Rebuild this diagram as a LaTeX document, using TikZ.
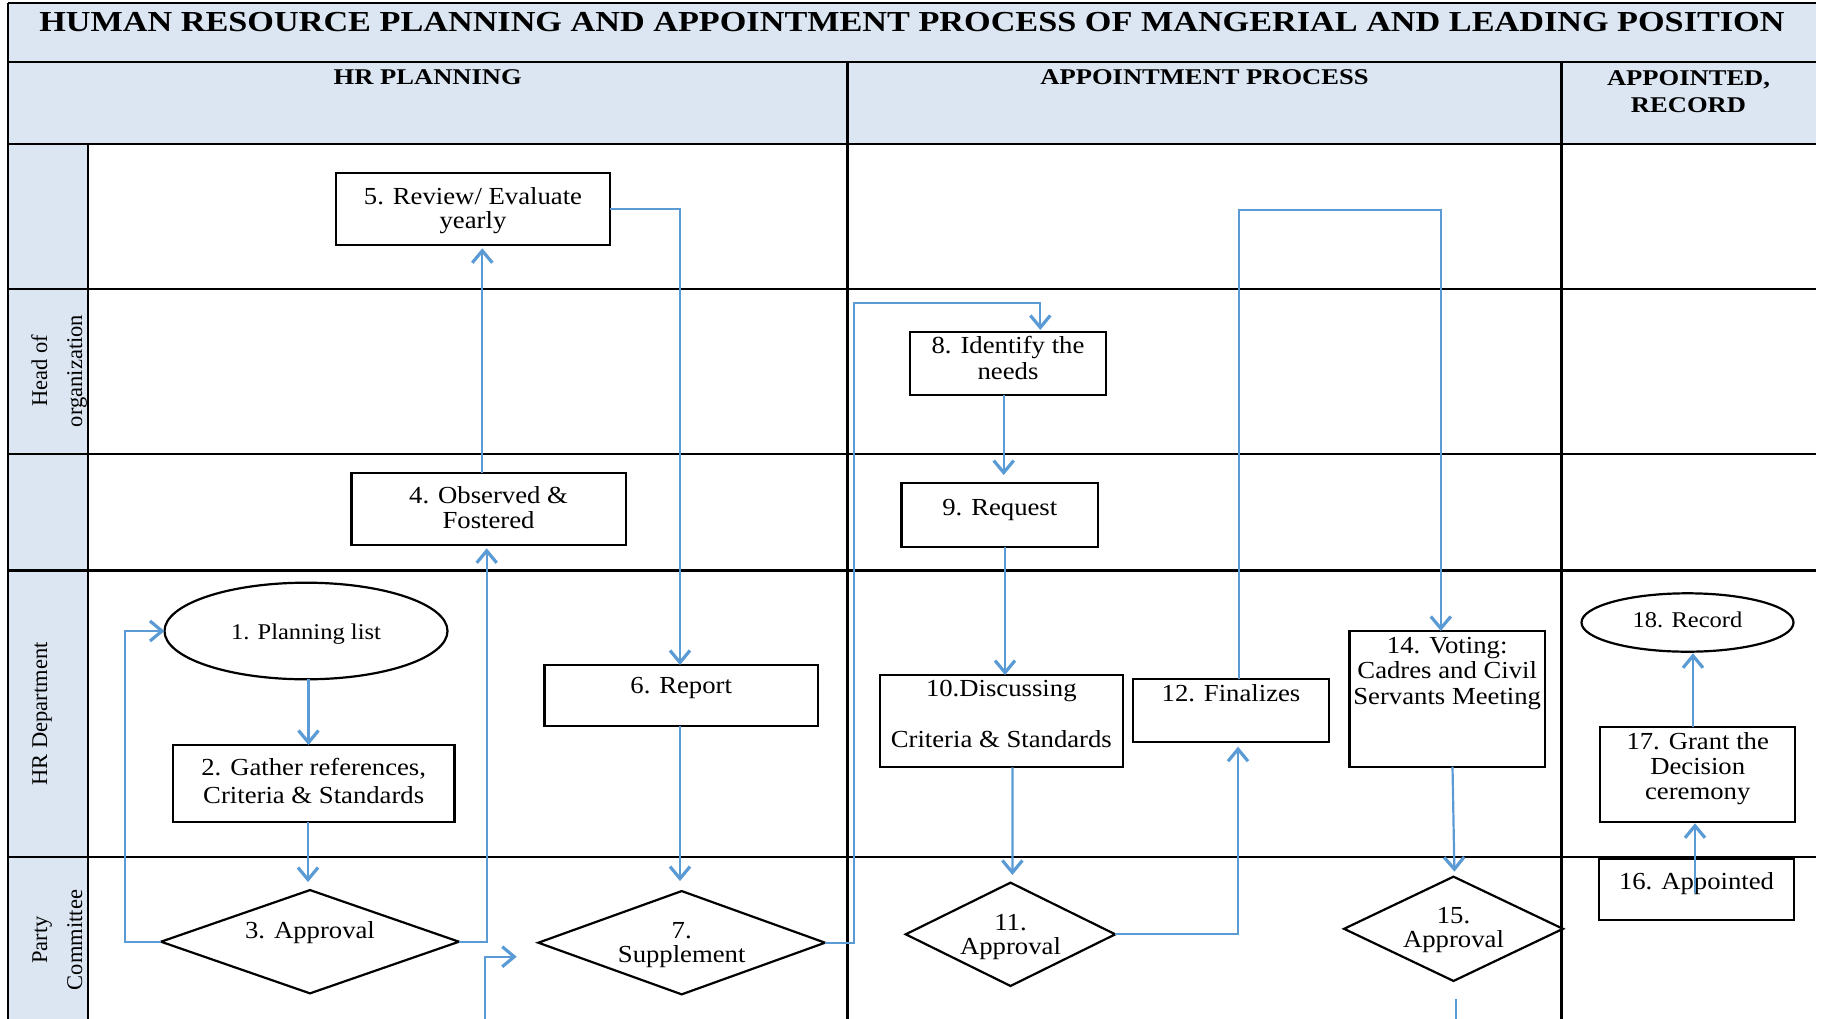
\documentclass[tikz,border=0pt]{standalone}
\usepackage{fontspec}
\setmainfont{Liberation Serif}
\newfontfamily\bodyfont{Liberation Serif}[FakeStretch=1.09]
\newfontfamily\headfont{Liberation Serif}[FakeStretch=1.18]
\usetikzlibrary{shapes.geometric,arrows.meta}
\definecolor{cblue}{HTML}{5B9BD5}
\definecolor{hdr}{HTML}{DCE6F2}
\newcommand{\bsz}[1]{\bodyfont\fontsize{24.5}{#1}\selectfont}
\begin{document}
\begin{tikzpicture}[x=1pt,y=-1pt,
  tbl/.style={line width=2.5pt, draw=black},
  shp/.style={draw=black, line width=2.2pt, inner sep=0pt, outer sep=0pt},
  boxn/.style={shp, rectangle},
  dian/.style={shp, diamond},
  elln/.style={shp, ellipse, font=\bodyfont\fontsize{22.5}{25}\selectfont},
  conn/.style={draw=cblue, line width=2.2pt, -{Straight Barb[length=12pt,width=20pt,line width=3.2pt]}},
  plainline/.style={draw=cblue, line width=2.2pt},
  txt/.style={inner sep=0pt, align=center, anchor=base},
  lane/.style={inner sep=0pt, align=center, anchor=base, rotate=90, font=\fontsize{22.5}{35}\selectfont},
  hd/.style={txt, font=\headfont\bfseries\fontsize{22.5}{27.5}\selectfont}
]
\useasboundingbox (0,0) rectangle (1822,1018);
\clip (0,0) rectangle (1822,1018);
% ---------- table ----------
\fill[hdr] (8,3) rectangle (1816,144);
\fill[hdr] (8,144) rectangle (88,1030);
\draw[tbl] (8,3) -- (1816,3);
\draw[tbl] (8,62) -- (1816,62);
\draw[tbl] (8,144) -- (1816,144);
\draw[tbl] (8,289) -- (1816,289);
\draw[tbl] (8,454) -- (1816,454);
\draw[tbl] (8,570.5) -- (1816,570.5);
\draw[tbl] (8,857) -- (1816,857);
\draw[tbl] (8,3) -- (8,1030);
\draw[tbl] (88,144) -- (88,1030);
\draw[tbl] (847.5,62) -- (847.5,1030);
\draw[tbl] (1561.5,62) -- (1561.5,1030);
% ---------- titles ----------
\node[txt, font=\headfont\bfseries\fontsize{29}{30}\selectfont] (title) at (912,31) {HUMAN RESOURCE PLANNING AND APPOINTMENT PROCESS OF MANGERIAL AND LEADING POSITION};
\node[hd] (hhr) at (427.75,84) {HR PLANNING};
\node[hd] (hap) at (1204.5,84) {APPOINTMENT PROCESS};
\node[hd] (hre) at (1688.5,112.5) {APPOINTED,\\RECORD};
% ---------- lane labels (base = last line) ----------
\node[lane] (lhead) at (82,371) {Head of\\organization};
\node[lane] (lhr) at (47,714) {HR Department};
\node[lane] (lpc) at (82,940) {Party\\Committee};
% ---------- shapes ----------
\node[elln, minimum width=283pt, minimum height=96.6pt, text height=21pt] (n1) at (306,631) {1. Planning list};
\node[boxn, minimum width=281.4pt, minimum height=77pt] (n2) at (313.7,783.5) {};
\node[dian, minimum width=298pt, minimum height=103.3pt] (n3) at (310,941.7) {};
\node[boxn, minimum width=274.3pt, minimum height=72.6pt] (n4) at (488.6,509) {};
\node[boxn, minimum width=274pt, minimum height=72.5pt] (n5) at (473,209) {};
\node[boxn, minimum width=273.6pt, minimum height=60.7pt] (n6) at (681.2,695.3) {};
\node[dian, minimum width=286.7pt, minimum height=103.3pt] (n7) at (681.7,942.7) {};
\node[boxn, minimum width=196pt, minimum height=63.3pt] (n8) at (1008,363.3) {};
\node[boxn, minimum width=196.5pt, minimum height=63.3pt] (n9) at (999.8,515) {};
\node[boxn, minimum width=243pt, minimum height=92.3pt] (n10) at (1001.3,721.2) {};
\node[dian, minimum width=209.5pt, minimum height=103.3pt] (n11) at (1010.5,934.3) {};
\node[boxn, minimum width=195.3pt, minimum height=63pt] (n12) at (1231,710.5) {};
\node[boxn, minimum width=195.3pt, minimum height=135.7pt] (n14) at (1447.2,698.8) {};
\node[dian, minimum width=218.9pt, minimum height=104.3pt] (n15) at (1453.5,928.8) {};
\node[boxn, minimum width=195pt, minimum height=61pt] (n16) at (1696.5,889.5) {};
\node[boxn, minimum width=195.3pt, minimum height=95pt] (n17) at (1697.7,774.2) {};
\node[elln, minimum width=212pt, minimum height=58.4pt, text depth=6.4pt] (n18) at (1687.5,622.5) {18. Record};
% ---------- texts (anchor base = last line) ----------
\node[txt, font=\bsz{28.5}] (t2) at ([yshift=-58.5pt]n2.north) {2. Gather references,\\Criteria \& Standards};
\node[txt, font=\bsz{24.5}] (t3) at ([yshift=3.2pt]n3.center) {3. Approval};
\node[txt, font=\bsz{24.5}] (t4) at ([yshift=-55.5pt]n4.north) {4. Observed \&\\Fostered};
\node[txt, font=\bsz{24.5}] (t5) at ([yshift=-56pt]n5.north) {5. Review/ Evaluate\\yearly};
\node[txt, font=\bsz{24.5}] (t6) at ([yshift=-29pt]n6.north) {6. Report};
\node[txt, font=\bsz{23.4}] (t7) at ([yshift=-19.5pt]n7.center) {7.\\Supplement};
\node[txt, font=\bsz{26}] (t8) at ([yshift=-48pt]n8.north) {8. Identify the\\needs};
\node[txt, font=\bsz{24.5}] (t9) at ([yshift=-31.7pt]n9.north) {9. Request};
\node[txt, font=\bsz{25.5}] (t10) at ([yshift=-72.5pt]n10.north) {10.Discussing\\[25.5pt]Criteria \& Standards};
\node[txt, font=\bsz{24}] (t11) at ([yshift=-20.2pt]n11.center) {11.\\Approval};
\node[txt, font=\bsz{24.5}] (t12) at ([yshift=-22pt]n12.north) {12. Finalizes};
\node[txt, font=\bsz{25.5}] (t14) at ([yshift=-73.5pt]n14.north) {14. Voting:\\Cadres and Civil\\Servants Meeting};
\node[txt, font=\bsz{24}] (t15) at ([yshift=-18.7pt]n15.center) {15.\\Approval};
\node[txt, font=\bsz{24.5}] (t16) at ([yshift=-30pt]n16.north) {16. Appointed};
\node[txt, font=\bsz{25}] (t17) at ([yshift=-73pt]n17.north) {17. Grant the\\Decision\\ceremony};
% ---------- connectors ----------
\draw[conn] ([xshift=2.5pt]n1.south) -- ([xshift=-5.2pt]n2.north);
\draw[conn] ([xshift=-5.7pt]n2.south) -- ([xshift=-2pt,yshift=8pt]n3.north);
\draw[conn] (n3.west) -- ++(-36,0) |- (n1.west);
\draw[conn] (n3.east) -| ([xshift=-1.9pt,yshift=-3pt]n4.south);
\draw[conn] ([xshift=-6.3pt]n4.north) -- ([xshift=9.3pt,yshift=-3pt]n5.south);
\draw[conn] (n5.east) -| ([xshift=-1.2pt]n6.north);
\draw[conn] ([xshift=-1.2pt]n6.south) -- ([xshift=-1.7pt,yshift=10pt]n7.north);
\draw[conn] (n7.east) -- ++(29,0) -- ++(0,-639.4) -| ([xshift=32.3pt,yshift=1.7pt]n8.north);
\draw[conn] ([xshift=-4.3pt]n8.south) -- ([xshift=3.9pt,yshift=8.3pt]n9.north);
\draw[conn] ([xshift=5.2pt]n9.south) -- ([xshift=3.7pt]n10.north);
\draw[conn] ([xshift=11.1pt]n10.south) -- ([xshift=1.9pt,yshift=7.7pt]n11.north);
\draw[conn] (n11.east) -| ([xshift=7pt,yshift=-4.7pt]n12.south);
\draw[conn] ([xshift=8pt]n12.north) -- ++(0,-469) -| ([xshift=-6.4pt]n14.north);
\draw[conn] ([xshift=5.3pt]n14.south) -- ([xshift=0.9pt,yshift=5pt]n15.north);
\coordinate (b15) at (1456,1030);
\draw[plainline] ([xshift=2.5pt,yshift=-18.3pt]n15.south) -- (b15);
\draw[conn] ([xshift=-1.5pt,yshift=-3.8pt]n16.center) -- ([xshift=-2.7pt,yshift=-1.6pt]n17.south);
\draw[conn] ([xshift=-4.7pt]n17.north) -- ([xshift=5.5pt,yshift=-1.6pt]n18.south);
\coordinate (b7) at (485,1030);
\draw[conn] (b7) |- ([xshift=-21.6pt,yshift=-14pt]n7.west);
\end{tikzpicture}
\end{document}
